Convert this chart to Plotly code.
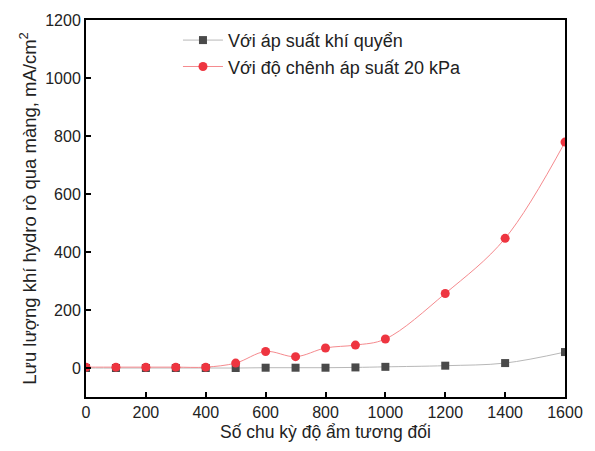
import plotly.graph_objects as go

cycles = [0, 100, 200, 300, 400, 500, 600, 700, 800, 900, 1000, 1200, 1400, 1600]
atm = [0, 0, 0, 0, 0, 0, 1, 1, 1, 2, 4, 8, 17, 55]
diff20 = [3, 3, 3, 3, 3, 17, 57, 39, 69, 79, 100, 257, 447, 779]

series_names = ["Với áp suất khí quyển", "Với độ chênh áp suất 20 kPa"]
x_title = "Số chu kỳ độ ẩm tương đối"
y_title = "Lưu lượng khí hydro rò qua màng, mA/cm<sup>2</sup>"
x_ticks = [0, 200, 400, 600, 800, 1000, 1200, 1400, 1600]
y_ticks = [0, 200, 400, 600, 800, 1000, 1200]

font = "Liberation Sans, Arial, sans-serif"

fig = go.Figure()
fig.add_trace(go.Scatter(
    x=cycles, y=atm, name=series_names[0], mode="lines+markers",
    line=dict(color="#b8b8b8", width=1, shape="spline"),
    marker=dict(symbol="square", size=8, color="#4a4a4a"),
))
fig.add_trace(go.Scatter(
    x=cycles, y=diff20, name=series_names[1], mode="lines+markers",
    line=dict(color="#f58a8e", width=1, shape="spline"),
    marker=dict(symbol="circle", size=9, color="#ee3540"),
))

axis_common = dict(
    showline=True, linecolor="black", linewidth=2, mirror=True,
    ticks="inside", ticklen=5, tickwidth=1.5, tickcolor="black",
    showgrid=False, zeroline=False,
    tickfont=dict(family=font, size=16, color="#222"),
)
fig.update_xaxes(range=[0, 1600], tickvals=x_ticks, title=dict(text=x_title, font=dict(family=font, size=17.5, color="#222"), standoff=6), **axis_common)
fig.update_yaxes(range=[-100, 1200], tickvals=y_ticks, title=dict(text=y_title, font=dict(family=font, size=18.5, color="#222"), standoff=4), **axis_common)

fig.update_layout(
    width=595, height=451,
    margin=dict(l=86, r=29, t=14, b=54),
    plot_bgcolor="white", paper_bgcolor="white",
    showlegend=True,
    legend=dict(x=0.192, y=0.995, xanchor="left", yanchor="top",
                bgcolor="rgba(0,0,0,0)", font=dict(family=font, size=18, color="#222"),
                tracegroupgap=0, itemwidth=40),
)

fig.write_html("out.html")
